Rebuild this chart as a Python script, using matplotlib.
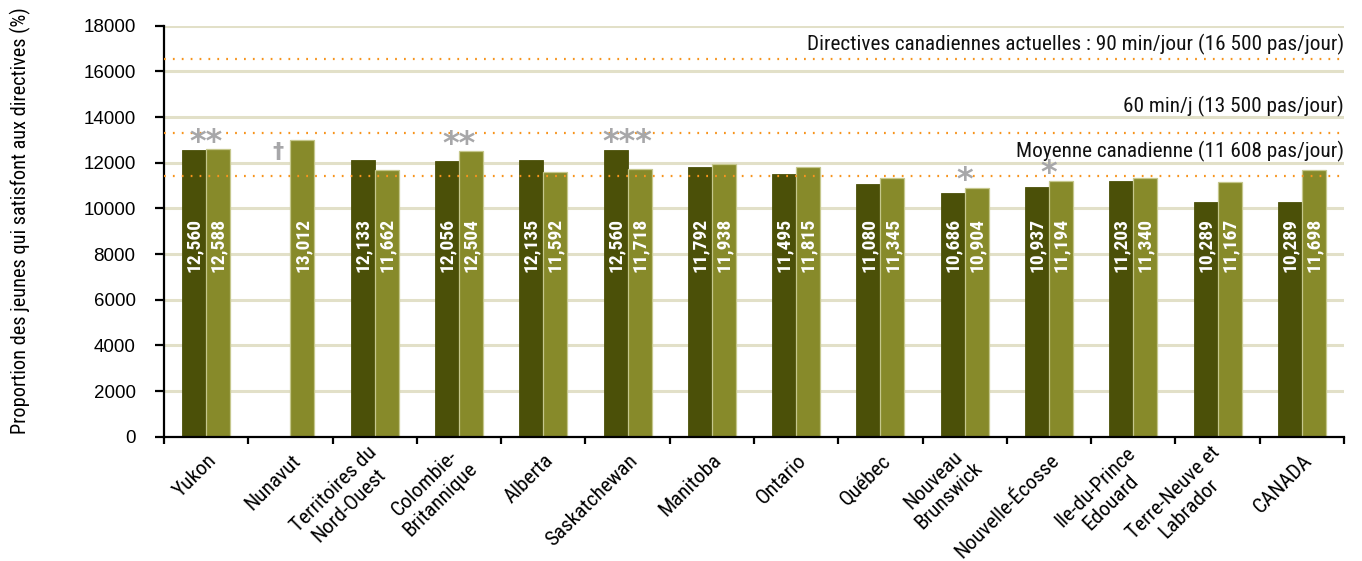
import matplotlib
matplotlib.use("Agg")
import matplotlib.pyplot as plt
from matplotlib import font_manager as fm
from matplotlib import transforms as mtransforms
from matplotlib.ticker import FixedLocator
import numpy as np

# ---------------- data ----------------
categories = ["Yukon", "Nunavut", "Territoires du\nNord-Ouest", "Colombie-\nBritannique",
              "Alberta", "Saskatchewan", "Manitoba", "Ontario", "Québec",
              "Nouveau\nBrunswick", "Nouvelle-Écosse", "Ile-du-Prince\nEdouard",
              "Terre-Neuve et\nLabrador", "CANADA"]
series_dark = [12560, np.nan, 12133, 12056, 12135, 12560, 11792, 11495, 11080,
               10686, 10937, 11203, 10289, 10289]
series_light = [12588, 13012, 11662, 12504, 11592, 11718, 11938, 11815, 11345,
                10904, 11194, 11340, 11167, 11698]
significance = ["**", "", "", "**", "", "***", "", "", "", "*", "*", "", "", ""]
dagger_category = "Nunavut"
ref_values = [16550, 13300, 11400]
ref_labels = ["Directives canadiennes actuelles : 90 min/jour (16 500 pas/jour)",
              "60 min/j (13 500 pas/jour)",
              "Moyenne canadienne (11 608 pas/jour)"]
ref_label_y = [17200, 14450, 12480]
yticks = list(range(0, 18001, 2000))
ylabel = "Proportion des jeunes qui satisfont aux directives (%)"

# ---------------- fonts ----------------
def find_condensed(bold=False):
    cands = []
    for f in fm.fontManager.ttflist:
        fn = f.fname.replace(" ", "").lower()
        name = f.name.lower()
        tag = fn + name
        if ("condensed" in tag or "narrow" in tag or str(f.stretch) in ("condensed", "semi-condensed")) \
                and "italic" not in fn and "oblique" not in fn:
            w = f.weight if isinstance(f.weight, int) else (700 if "bold" in str(f.weight) else 400)
            isbold = ("bold" in fn) or w >= 600
            if isbold == bold and "light" not in fn and "semi" not in fn.replace("semicondensed", "") \
                    and "extra" not in fn and "black" not in fn and "medium" not in fn and "thin" not in fn:
                cands.append(f.fname)
    pri = ["robotocondensed", "liberationsansnarrow", "opensans_condensed", "opensanscondensed",
           "notosanscondensed", "notosans-condensed", "dejavusanscondensed", "condensed", "narrow"]
    for p in pri:
        for c in cands:
            if p in c.replace(" ", "").lower():
                return c
    return cands[0] if cands else None

cr = find_condensed(False)
cb = find_condensed(True)
FP = fm.FontProperties(fname=cr) if cr else fm.FontProperties(family="Roboto")
FPB = fm.FontProperties(fname=cb) if cb else fm.FontProperties(family="Roboto", weight="bold")

def fp(size, bold=False):
    p = (FPB if bold else FP).copy()
    p.set_size(size)
    return p

SANS = "Liberation Sans"

DARK = "#4b5008"
LIGHT = "#878a2a"
GRID = "#e2e0c8"
ORANGE = "#f7941d"
GRAY = "#a7a7a9"

W, H = 1362, 561
fig = plt.figure(figsize=(W / 100, H / 100), dpi=100)
ax = fig.add_axes([164 / W, 1 - 436.7 / H, (1344 - 164) / W, (436.7 - 25.7) / H])

n = len(categories)
x = np.arange(n)
bw = 0.285

ax.set_xlim(-0.5, n - 0.5)
ax.set_ylim(0, 18000)

for yv in yticks[1:]:
    ax.axhline(yv, color=GRID, lw=2.2, zorder=0)

ax.bar(x - bw / 2, series_dark, bw, color=DARK, edgecolor=DARK, lw=0.6, zorder=2)
ax.bar(x + bw / 2, series_light, bw, color=LIGHT, edgecolor="#c5c78c", lw=0.9, zorder=2)

for xi, v in zip(x, series_dark):
    if not np.isnan(v):
        ax.text(xi - bw / 2, 8400, f"{int(v):,}", rotation=90, ha="center", va="center",
                color="white", fontproperties=fp(14, True), zorder=4)
for xi, v in zip(x, series_light):
    ax.text(xi + bw / 2, 8400, f"{int(v):,}", rotation=90, ha="center", va="center",
            color="white", fontproperties=fp(14, True), zorder=4)

for xi, s, d, l in zip(x, significance, series_dark, series_light):
    if s:
        top = np.nanmax([d, l])
        ax.annotate(s, (xi, top), xytext=(0, -1.0), textcoords="offset points",
                    ha="center", va="baseline", color=GRAY, fontsize=23, fontweight="bold",
                    family="DejaVu Sans", zorder=5)
di = categories.index(dagger_category)
ax.text(di - bw / 2, 12450, "†", ha="center", va="center", color=GRAY, fontsize=16,
        fontweight="bold", family="DejaVu Sans", zorder=5)

for yv, lab, ly in zip(ref_values, ref_labels, ref_label_y):
    ax.axhline(yv, color=ORANGE, lw=1.6, ls=(0, (0.8, 3.2)), zorder=3)
    ax.text(n - 0.5, ly, lab, ha="right", va="center", fontproperties=fp(15.3),
            color="#111111", zorder=5)

for side in ["top", "right"]:
    ax.spines[side].set_visible(False)
for side in ["left", "bottom"]:
    ax.spines[side].set_linewidth(1.6)
    ax.spines[side].set_color("black")

ax.set_yticks(yticks)
ax.set_yticklabels([str(v) for v in yticks], fontsize=13.5, family=SANS)
ax.tick_params(axis="y", length=6.5, width=1.6, pad=14)

ax.set_xticks(x)
ax.set_xticklabels(categories, rotation=45, ha="right", va="center", rotation_mode="anchor",
                   fontproperties=fp(15.3), multialignment="center")
ax.tick_params(axis="x", which="major", length=0, pad=15)
ax.xaxis.set_minor_locator(FixedLocator(np.arange(-0.5, n, 1.0)))
ax.tick_params(axis="x", which="minor", length=5, width=1.6)
shift = mtransforms.ScaledTranslation(7 / 100, 0, fig.dpi_scale_trans)
for lab in ax.get_xticklabels():
    lab.set_transform(lab.get_transform() + shift)

fig.text(20 / W, 1 - 221 / H, ylabel, rotation=90, ha="center", va="center",
         fontproperties=fp(14.6))

fig.savefig("out.png", dpi=100)
